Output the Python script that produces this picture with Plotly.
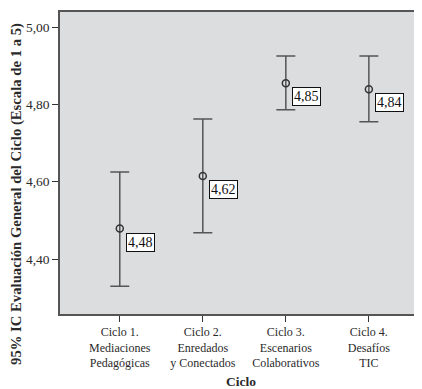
import plotly.graph_objects as go

categories = ["Ciclo 1.<br>Mediaciones<br>Pedagógicas",
              "Ciclo 2.<br>Enredados<br>y Conectados",
              "Ciclo 3.<br>Escenarios<br>Colaborativos",
              "Ciclo 4.<br>Desafíos<br>TIC"]
means = [4.479, 4.615, 4.855, 4.839]
lower = [4.330, 4.468, 4.786, 4.755]
upper = [4.625, 4.762, 4.925, 4.925]
labels = ["4,48", "4,62", "4,85", "4,84"]
yticks = [4.40, 4.60, 4.80, 5.00]

FONT = "Liberation Serif"
LINE = "#555555"
TXT = "#2a2a2a"
xs = list(range(len(categories)))

fig = go.Figure()
fig.add_trace(go.Scatter(
    x=xs, y=means, mode="markers",
    marker=dict(symbol="circle-open", size=7, color="#333333", line=dict(width=1.5)),
    error_y=dict(type="data", symmetric=False,
                 array=[u - m for u, m in zip(upper, means)],
                 arrayminus=[m - l for m, l in zip(means, lower)],
                 color=LINE, thickness=1.5, width=9.5),
    showlegend=False, hoverinfo="skip"))

for x, m, t in zip(xs, means, labels):
    fig.add_annotation(x=x, y=m, text=t, showarrow=False,
                       xanchor="left", yanchor="top", xshift=6, yshift=-4,
                       font=dict(family=FONT, size=14, color="#111111"),
                       bgcolor="white", bordercolor="#111111", borderwidth=1, borderpad=1)

fig.add_annotation(xref="paper", yref="paper", x=0.5, y=-0.222, yanchor="middle",
                   text="<b>Ciclo</b>", showarrow=False,
                   font=dict(family=FONT, size=13.5, color=TXT))
fig.add_annotation(xref="paper", yref="paper", x=-0.12, y=0.396, textangle=-90,
                   xanchor="center", yanchor="middle",
                   text="<b>95% IC Evaluación General del Ciclo (Escala de 1 a 5)</b>",
                   showarrow=False, font=dict(family=FONT, size=14.7, color=TXT))

fig.update_layout(
    width=414, height=381,
    margin=dict(l=52, r=0, t=4, b=75),
    paper_bgcolor="white", plot_bgcolor="#dcdddf",
    separators=",.",
    font=dict(family=FONT, size=13, color=TXT),
    xaxis=dict(range=[-0.72, 3.64], tickvals=xs, ticktext=categories, automargin=False,
               showgrid=False, zeroline=False, showline=True, mirror=True,
               linecolor=LINE, linewidth=1.6, ticks="outside", ticklen=6,
               tickcolor="#333333", tickfont=dict(family=FONT, size=12, color=TXT)),
    yaxis=dict(range=[4.258, 5.039], tickvals=yticks, tickformat=".2f", automargin=False,
               showgrid=False, zeroline=False, showline=True, mirror=False,
               linecolor=LINE, linewidth=1.6, ticks="outside", ticklen=6,
               tickcolor="#333333", tickfont=dict(family=FONT, size=13.5, color=TXT)),
)
fig.write_html("out.html")
